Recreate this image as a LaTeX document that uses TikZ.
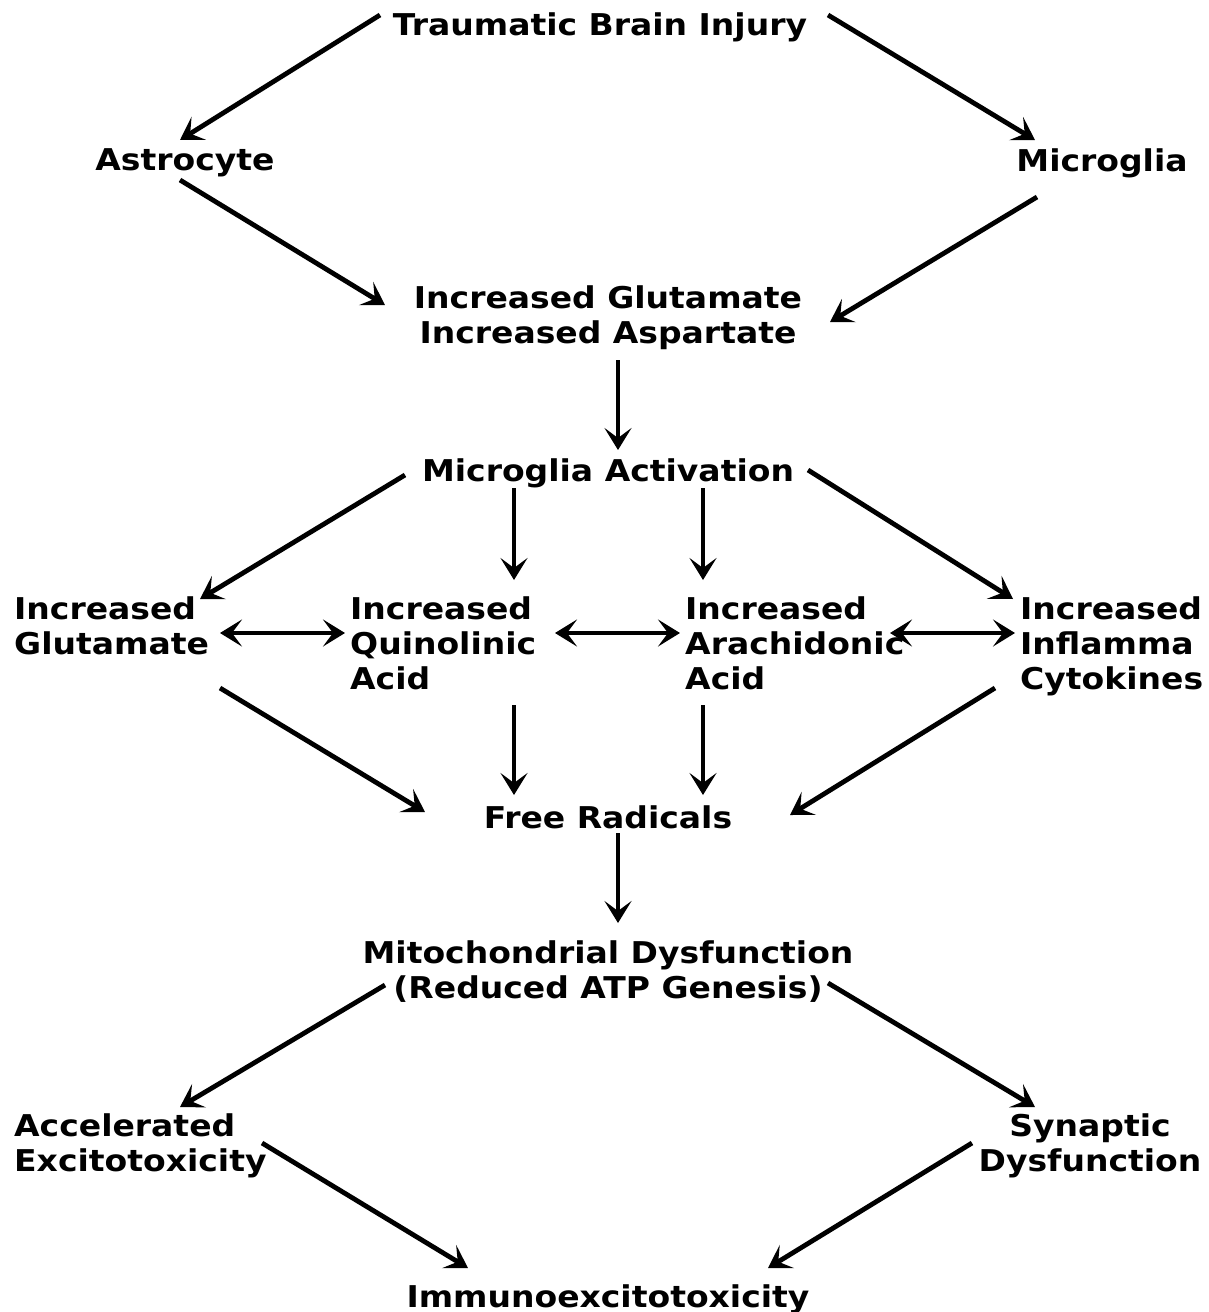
\documentclass[tikz,border=0pt]{standalone}
\usepackage{fontspec}
\setmainfont[FakeStretch=1.1]{DejaVu Sans}
\usepackage{tikz}
\usetikzlibrary{arrows.meta, positioning}

\begin{document}
\begin{tikzpicture}[x=1pt, y=-1pt,
  lbl/.style={font=\fontsize{30}{35}\selectfont\bfseries, inner sep=0pt},
  lblL/.style={lbl, align=left, anchor=north west},
  lblC/.style={lbl, align=center},
  arr/.style={-{Stealth[length=22pt, width=27pt, inset=10pt]}, line width=4.8pt},
  barr/.style={{Stealth[length=22pt, width=27pt, inset=10pt]}-{Stealth[length=22pt, width=27pt, inset=10pt]}, line width=4.8pt},
]
\useasboundingbox (0,0) rectangle (1209,1312);

% Top level
\node[lblC] (tbi) at (600,27) {Traumatic Brain Injury};
\node[lblC] (astro) at (185,163) {Astrocyte};
\node[lblC] (micro) at (1102,163) {Microglia};
\node[lblC] (glu) at (608,318) {Increased Glutamate\\Increased Aspartate};
\node[lblC] (act) at (608,473) {Microglia Activation};

% Middle row
\node[lblL] (incglu) at (14,596) {Increased\\Glutamate};
\node[lblL] (quin) at (350,596) {Increased\\Quinolinic\\Acid};
\node[lblL] (arach) at (685,596) {Increased\\Arachidonic\\Acid};
\node[lblL] (cyto) at (1020,596) {Increased\\Inflamma\\Cytokines};

% Lower part
\node[lblC] (free) at (608,817) {Free Radicals};
\node[lblC] (mito) at (608,972) {Mitochondrial Dysfunction\\(Reduced ATP Genesis)};
\node[lblL] (accel) at (14,1113) {Accelerated\\Excitotoxicity};
\node[lblC] (syn) at (1090,1146) {Synaptic\\Dysfunction};
\node[lblC] (immuno) at (608,1299) {Immunoexcitotoxicity};

% Arrows
\draw[arr] ([shift={(-220,-12)}]tbi.center) -- ([shift={(-5,-23)}]astro.center);
\draw[arr] ([shift={(228,-12)}]tbi.center) -- ([shift={(-67,-23)}]micro.center);
\draw[arr] ([shift={(-5,17)}]astro.center) -- ([shift={(-223,-13)}]glu.center);
\draw[arr] ([shift={(-65,34)}]micro.center) -- ([shift={(222,4)}]glu.center);
\draw[arr] ([shift={(10,42)}]glu.center) -- ([shift={(10,-23)}]act.center);
\draw[arr] ([shift={(-203,2)}]act.center) -- ([shift={(186,3)}]incglu.north west);
\draw[arr] ([shift={(-94,15)}]act.center) -- ([shift={(164,-16)}]quin.north west);
\draw[arr] ([shift={(95,15)}]act.center) -- ([shift={(18,-16)}]arach.north west);
\draw[arr] ([shift={(200,-3)}]act.center) -- ([shift={(-7,3)}]cyto.north west);
\draw[barr] ([shift={(206,37)}]incglu.north west) -- ([shift={(-5,37)}]quin.north west);
\draw[barr] ([shift={(205,37)}]quin.north west) -- ([shift={(-5,37)}]arach.north west);
\draw[barr] ([shift={(205,37)}]arach.north west) -- ([shift={(-5,37)}]cyto.north west);
\draw[arr] ([shift={(206,92)}]incglu.north west) -- ([shift={(-183,-5)}]free.center);
\draw[arr] ([shift={(164,109)}]quin.north west) -- ([shift={(-94,-22)}]free.center);
\draw[arr] ([shift={(18,109)}]arach.north west) -- ([shift={(95,-22)}]free.center);
\draw[arr] ([shift={(-25,92)}]cyto.north west) -- ([shift={(182,-2)}]free.center);
\draw[arr] ([shift={(10,16)}]free.center) -- ([shift={(10,-49)}]mito.center);
\draw[arr] ([shift={(-223,13)}]mito.center) -- ([shift={(166,-6)}]accel.north west);
\draw[arr] ([shift={(220,11)}]mito.center) -- ([shift={(-55,-39)}]syn.center);
\draw[arr] ([shift={(248,30)}]accel.north west) -- ([shift={(-140,-31)}]immuno.center);
\draw[arr] ([shift={(-118,-3)}]syn.center) -- ([shift={(160,-31)}]immuno.center);
\end{tikzpicture}
\end{document}
